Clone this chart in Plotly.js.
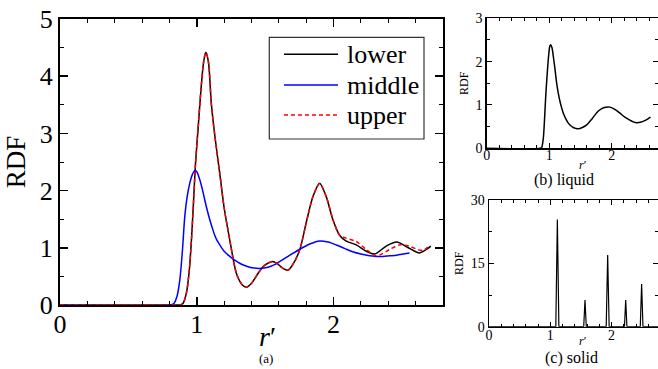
<!DOCTYPE html>
<html><head><meta charset="utf-8">
<script src="https://cdn.plot.ly/plotly-3.0.1.min.js"></script>
<style>html,body{margin:0;padding:0;background:#fff}#plot{width:658px;height:369px}</style>
</head><body><div id="plot"></div>
<script>
// ---- data ----
const lowerX = [0, 0.85, 0.88, 0.90, 0.925, 0.945, 0.96, 0.975, 0.99, 1.01, 1.03, 1.05, 1.066, 1.085, 1.107, 1.135, 1.168, 1.2, 1.241, 1.29, 1.33, 1.363, 1.40, 1.45, 1.484, 1.52, 1.552, 1.59, 1.63, 1.667, 1.70, 1.752, 1.805, 1.85, 1.898, 1.947, 1.995, 2.044, 2.09, 2.166, 2.24, 2.30, 2.385, 2.462, 2.54, 2.628, 2.69, 2.71];
const lowerY = [0, 0, 0, 0.03, 0.22, 0.6, 1.1, 1.75, 2.45, 3.1, 3.75, 4.25, 4.42, 4.25, 3.5, 2.9, 2.3, 1.7, 1.14, 0.55, 0.36, 0.31, 0.38, 0.56, 0.67, 0.73, 0.76, 0.72, 0.64, 0.61, 0.70, 0.96, 1.49, 1.9, 2.13, 1.89, 1.49, 1.22, 1.12, 1.05, 0.94, 0.89, 1.03, 1.10, 1.01, 0.91, 0.99, 1.03];
const upperX = [0, 0.85, 0.88, 0.90, 0.925, 0.945, 0.96, 0.975, 0.99, 1.01, 1.03, 1.05, 1.066, 1.085, 1.107, 1.135, 1.168, 1.2, 1.241, 1.29, 1.33, 1.363, 1.40, 1.45, 1.484, 1.52, 1.552, 1.59, 1.63, 1.667, 1.70, 1.752, 1.805, 1.85, 1.898, 1.947, 1.995, 2.044, 2.09, 2.166, 2.24, 2.312, 2.41, 2.48, 2.55, 2.628, 2.66, 2.706];
const upperY = [0, 0, 0, 0.03, 0.22, 0.6, 1.1, 1.75, 2.45, 3.1, 3.75, 4.25, 4.42, 4.25, 3.5, 2.9, 2.3, 1.7, 1.14, 0.55, 0.36, 0.31, 0.38, 0.56, 0.67, 0.73, 0.76, 0.72, 0.64, 0.61, 0.70, 0.96, 1.49, 1.9, 2.12, 1.89, 1.5, 1.22, 1.17, 1.11, 0.97, 0.86, 0.97, 1.05, 1.03, 0.96, 0.96, 1.05];
const middleX = [0, 0.80, 0.83, 0.855, 0.876, 0.895, 0.912, 0.93, 0.949, 0.966, 0.985, 1.0, 1.022, 1.04, 1.058, 1.076, 1.095, 1.113, 1.131, 1.15, 1.168, 1.2, 1.241, 1.28, 1.314, 1.35, 1.387, 1.42, 1.46, 1.52, 1.58, 1.66, 1.75, 1.83, 1.898, 1.96, 2.02, 2.08, 2.14, 2.2, 2.263, 2.31, 2.36, 2.41, 2.46, 2.51, 2.555];
const middleY = [0, 0, 0.02, 0.15, 0.44, 0.95, 1.54, 1.9, 2.13, 2.27, 2.35, 2.33, 2.19, 2.03, 1.84, 1.66, 1.49, 1.35, 1.22, 1.12, 1.05, 0.94, 0.85, 0.78, 0.73, 0.69, 0.66, 0.645, 0.64, 0.66, 0.72, 0.84, 0.97, 1.07, 1.12, 1.1, 1.05, 0.99, 0.93, 0.89, 0.86, 0.85, 0.85, 0.86, 0.87, 0.89, 0.91];
const liquidX = [0, 0.86, 0.88, 0.906, 0.925, 0.944, 0.96, 0.976, 0.995, 1.01, 1.024, 1.045, 1.066, 1.093, 1.12, 1.146, 1.173, 1.2, 1.226, 1.266, 1.306, 1.346, 1.386, 1.426, 1.466, 1.53, 1.6, 1.69, 1.786, 1.88, 1.973, 2.05, 2.133, 2.21, 2.29, 2.345, 2.40, 2.46, 2.53, 2.58, 2.62];
const liquidY = [0, 0, 0.02, 0.23, 0.66, 1.19, 1.55, 1.88, 2.2, 2.36, 2.39, 2.32, 2.12, 1.82, 1.5, 1.27, 1.08, 0.93, 0.81, 0.68, 0.58, 0.52, 0.48, 0.46, 0.45, 0.48, 0.54, 0.69, 0.86, 0.94, 0.95, 0.9, 0.81, 0.72, 0.65, 0.61, 0.59, 0.6, 0.64, 0.68, 0.72];
const solidX = [0, 1.09, 1.115, 1.14, 1.545, 1.566, 1.587, 1.912, 1.936, 1.96, 2.21, 2.23, 2.25, 2.468, 2.49, 2.512, 2.8];
const solidY = [0, 0, 25.4, 0, 0, 6.3, 0, 0, 17.0, 0, 0, 6.3, 0, 0, 10.1, 0, 0];
const seriesNames = ['lower', 'middle', 'upper'];
const mainTicks = [0, 1, 2];
const mainYTicks = [0, 1, 2, 3, 4, 5];
const liquidYTicks = [0, 1, 2, 3];
const solidYTicks = [0, 15, 30];

const W = 658, H = 369;
const px = v => v / W, py = v => 1 - v / H;
const serif = 'Liberation Serif';

const traces = [
  {x: lowerX, y: lowerY, name: seriesNames[0], mode: 'lines', line: {color: '#000', width: 1.5, shape: 'spline', smoothing: 0.8}, xaxis: 'x', yaxis: 'y'},
  {x: middleX, y: middleY, name: seriesNames[1], mode: 'lines', line: {color: '#0000ff', width: 1.5, shape: 'spline', smoothing: 0.8}, xaxis: 'x', yaxis: 'y'},
  {x: upperX, y: upperY, name: seriesNames[2], mode: 'lines', line: {color: '#ff0000', width: 1.5, dash: '4px,3px', shape: 'spline', smoothing: 0.8}, xaxis: 'x', yaxis: 'y'},
  {x: liquidX, y: liquidY, name: 'liquid', mode: 'lines', line: {color: '#000', width: 1.5, shape: 'spline', smoothing: 0.8}, xaxis: 'x2', yaxis: 'y2'},
  {x: solidX, y: solidY, name: 'solid', mode: 'lines', line: {color: '#000', width: 1.2}, xaxis: 'x3', yaxis: 'y3'}
];

function ax(opts) {
  return Object.assign({
    showgrid: false, zeroline: false, showline: true, linecolor: '#000',
    mirror: 'allticks', ticks: 'inside', tickcolor: '#000', fixedrange: true
  }, opts);
}

const layout = {
  width: W, height: H, margin: {l: 0, r: 0, t: 0, b: 0},
  paper_bgcolor: '#fff', plot_bgcolor: '#fff', showlegend: false,
  font: {family: serif, color: '#000'},
  xaxis: ax({domain: [px(60), px(443)], range: [0, 2.8], tickvals: mainTicks, ticklen: 8, tickwidth: 1.5, linewidth: 2,
    minor: {dtick: 0.2, ticklen: 4, tickwidth: 1, tickcolor: '#000', ticks: 'inside'},
    tickfont: {size: 26, family: serif}, ticklabelstandoff: -5, anchor: 'y'}),
  yaxis: ax({domain: [py(305), py(19)], range: [0, 5], tickvals: mainYTicks, ticklen: 8, tickwidth: 1.5, linewidth: 2,
    minor: {dtick: 0.5, ticklen: 4, tickwidth: 1, tickcolor: '#000', ticks: 'inside'},
    tickfont: {size: 26, family: serif}, anchor: 'x',
    title: {text: 'RDF', font: {size: 27, family: serif}, standoff: 6}}),
  xaxis2: ax({domain: [px(486.7), 1], range: [0, 2.741], tickvals: mainTicks, ticklen: 5, tickwidth: 1, linewidth: 1.5,
    minor: {dtick: 0.2, ticklen: 3, tickwidth: 1, tickcolor: '#000', ticks: 'inside'},
    tickfont: {size: 14, family: serif}, ticklabelstandoff: -7, anchor: 'y2'}),
  yaxis2: ax({domain: [py(148.3), py(18.3)], range: [0, 3], tickvals: liquidYTicks, ticklen: 5, tickwidth: 1, linewidth: 1.5,
    minor: {dtick: 0.5, ticklen: 3, tickwidth: 1, tickcolor: '#000', ticks: 'inside'},
    tickfont: {size: 14, family: serif}, anchor: 'x2',
    title: {text: 'RDF', font: {size: 12, family: serif}, standoff: 4}}),
  xaxis3: ax({domain: [px(489), 1], range: [0, 2.757], tickvals: mainTicks, ticklen: 5, tickwidth: 1, linewidth: 1.5,
    minor: {dtick: 0.2, ticklen: 3, tickwidth: 1, tickcolor: '#000', ticks: 'inside'},
    tickfont: {size: 14, family: serif}, ticklabelstandoff: -5, anchor: 'y3'}),
  yaxis3: ax({domain: [py(326.7), py(200)], range: [0, 30], tickvals: solidYTicks, ticklen: 5, tickwidth: 1, linewidth: 1.5,
    minor: {dtick: 7.5, ticklen: 3, tickwidth: 1, tickcolor: '#000', ticks: 'inside'},
    tickfont: {size: 14, family: serif}, anchor: 'x3',
    title: {text: 'RDF', font: {size: 12, family: serif}, standoff: 4}}),
  shapes: [
    {type: 'rect', xref: 'paper', yref: 'paper', x0: px(269.3), x1: px(424), y0: py(139), y1: py(37.3), line: {color: '#333', width: 1.2}, fillcolor: '#fff'},
    {type: 'line', xref: 'paper', yref: 'paper', x0: px(284), x1: px(338), y0: py(54.3), y1: py(54.3), line: {color: '#000', width: 1.5}},
    {type: 'line', xref: 'paper', yref: 'paper', x0: px(284), x1: px(338), y0: py(85), y1: py(85), line: {color: '#0000ff', width: 1.5}},
    {type: 'line', xref: 'paper', yref: 'paper', x0: px(284), x1: px(338), y0: py(115), y1: py(115), line: {color: '#ff0000', width: 1.5, dash: '4px,3px'}}
  ],
  annotations: [
    {xref: 'paper', yref: 'paper', x: px(345), y: py(54.3), xanchor: 'left', yanchor: 'middle', text: seriesNames[0], showarrow: false, font: {size: 26, family: serif}},
    {xref: 'paper', yref: 'paper', x: px(345), y: py(85), xanchor: 'left', yanchor: 'middle', text: seriesNames[1], showarrow: false, font: {size: 26, family: serif}},
    {xref: 'paper', yref: 'paper', x: px(345), y: py(115), xanchor: 'left', yanchor: 'middle', text: seriesNames[2], showarrow: false, font: {size: 26, family: serif}},
    {xref: 'paper', yref: 'paper', x: px(267), y: py(336), xanchor: 'center', yanchor: 'middle', text: '<i>r</i>′', showarrow: false, font: {size: 28, family: serif}},
    {xref: 'paper', yref: 'paper', x: px(265.7), y: py(358), xanchor: 'center', yanchor: 'middle', text: '(a)', showarrow: false, font: {size: 13, family: serif}},
    {xref: 'paper', yref: 'paper', x: px(583), y: py(165), xanchor: 'center', yanchor: 'middle', text: '<i>r</i>′', showarrow: false, font: {size: 12, family: serif}},
    {xref: 'paper', yref: 'paper', x: px(564), y: py(180), xanchor: 'center', yanchor: 'middle', text: '(b) liquid', showarrow: false, font: {size: 16, family: serif}},
    {xref: 'paper', yref: 'paper', x: px(583), y: py(341), xanchor: 'center', yanchor: 'middle', text: '<i>r</i>′', showarrow: false, font: {size: 12, family: serif}},
    {xref: 'paper', yref: 'paper', x: px(571.7), y: py(357.7), xanchor: 'center', yanchor: 'middle', text: '(c) solid', showarrow: false, font: {size: 16, family: serif}}
  ]
};

Plotly.newPlot('plot', traces, layout, {staticPlot: true, displayModeBar: false});
</script></body></html>
